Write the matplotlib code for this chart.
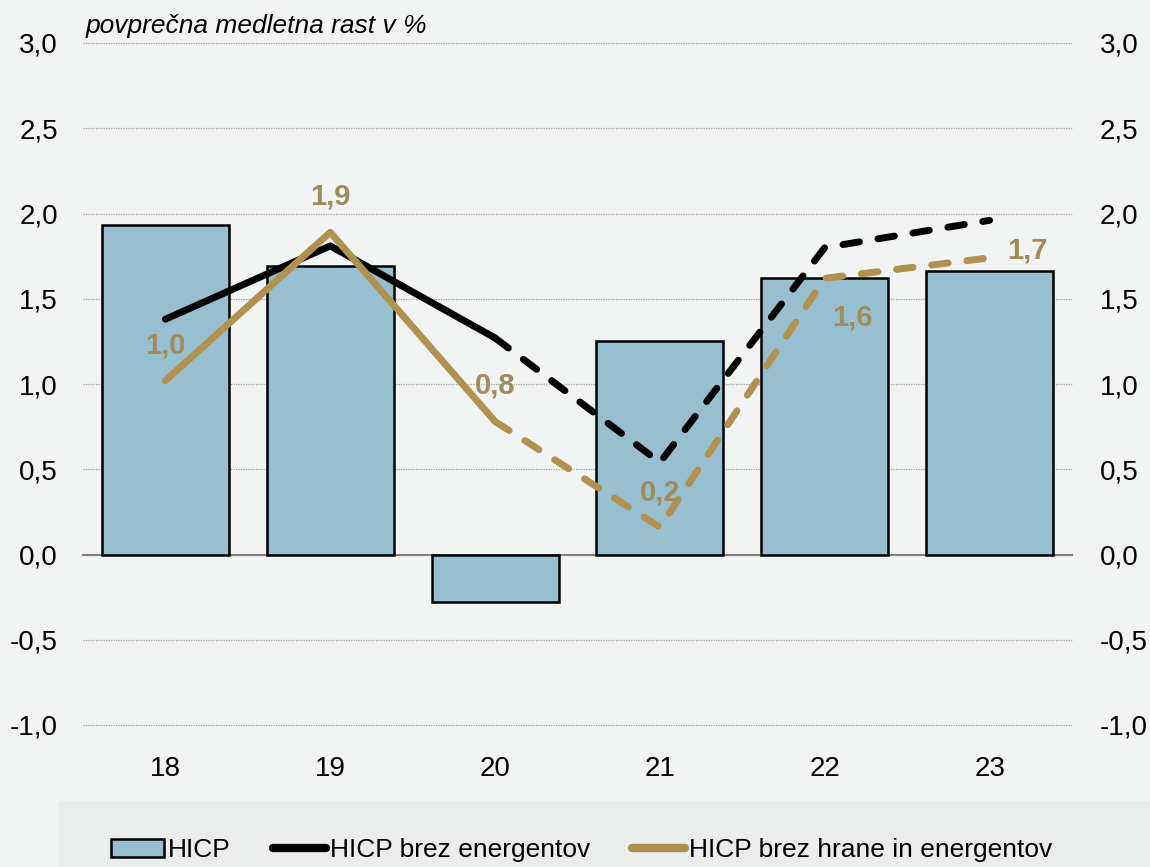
import numpy as np
import matplotlib
matplotlib.use('Agg')
import matplotlib.pyplot as plt
from matplotlib.patches import Rectangle
from matplotlib.lines import Line2D

plt.rcParams['font.family'] = ['Liberation Sans', 'DejaVu Sans']

# data
years = ['18', '19', '20', '21', '22', '23']
hicp = [1.93, 1.69, -0.28, 1.25, 1.62, 1.66]
hicp_ex_energy = [1.38, 1.81, 1.27, 0.54, 1.80, 1.96]
hicp_core = [1.02, 1.89, 0.78, 0.16, 1.62, 1.74]
core_labels = ['1,0', '1,9', '0,8', '0,2', '1,6', '1,7']
yticks = [-1.0, -0.5, 0.0, 0.5, 1.0, 1.5, 2.0, 2.5, 3.0]
n_solid = 3  # first three points are actual data, rest is projection

bar_col = '#98BFCF'
gold = '#B09150'
gold_txt = '#A08C5A'

fig = plt.figure(figsize=(11.5, 8.67), dpi=100, facecolor='#F2F4F4')
fig.patches.append(Rectangle((58 / 1150, 0), 1, 66 / 867, transform=fig.transFigure,
                             facecolor='#EBEDED', edgecolor='none', zorder=0))

ax = fig.add_axes([83 / 1150, 1 - 725 / 867, 989 / 1150, 682 / 867])
ax.set_facecolor('none')
x = np.arange(len(years))

ax.bar(x, hicp, width=0.77, color=bar_col, edgecolor='black', linewidth=1.8, zorder=2)

lw = 5
ax.plot(x[:n_solid], hicp_ex_energy[:n_solid], color='black', lw=lw,
        solid_capstyle='round', solid_joinstyle='round', zorder=3)
ax.plot(x[n_solid - 1:], hicp_ex_energy[n_solid - 1:], color='black', lw=lw,
        dashes=(2.4, 2.7), dash_capstyle='round', zorder=3)
ax.plot(x[:n_solid], hicp_core[:n_solid], color=gold, lw=lw,
        solid_capstyle='round', solid_joinstyle='round', zorder=4)
ax.plot(x[n_solid - 1:], hicp_core[n_solid - 1:], color=gold, lw=lw,
        dashes=(2.4, 2.7), dash_capstyle='round', zorder=4)

offsets = [(0, 25), (0, 26), (0, 26), (0, 25), (20, -28), (27, 5)]
for xi, v, lab, off in zip(x, hicp_core, core_labels, offsets):
    ax.annotate(lab, (xi, v), xytext=off, textcoords='offset points',
                ha='center', va='center', color=gold_txt, fontsize=21,
                fontweight='bold', zorder=5)

ax.set_xlim(-0.5, len(years) - 0.5)
ax.set_ylim(-1.0, 3.0)
ytl = [f'{t:.1f}'.replace('.', ',') for t in yticks]
ax.set_yticks(yticks)
ax.set_yticklabels(ytl)
ax.set_xticks(x)
ax.set_xticklabels(years)
ax.tick_params(axis='both', length=0, labelsize=20)
ax.tick_params(axis='y', pad=18)
ax.tick_params(axis='x', pad=22)
for s in ax.spines.values():
    s.set_visible(False)

ax2 = ax.twinx()
ax2.set_ylim(-1.0, 3.0)
ax2.set_yticks(yticks)
ax2.set_yticklabels(ytl)
ax2.tick_params(axis='y', length=0, labelsize=20, pad=20)
for s in ax2.spines.values():
    s.set_visible(False)

for t in yticks:
    if t == 0:
        ax.axhline(0, color='#808080', lw=1.5, zorder=1, clip_on=False)
    else:
        ax.axhline(t, color='#A0A0A0', lw=0.9, ls=(0, (1, 1)), zorder=1, clip_on=False)

ax.text(0.003, 1.008, 'povprečna medletna rast v %', transform=ax.transAxes,
        ha='left', va='bottom', fontsize=19, style='italic')

handles = [Rectangle((0, 0), 1, 1, facecolor=bar_col, edgecolor='black', linewidth=1.8),
           Line2D([], [], color='black', lw=6, solid_capstyle='round'),
           Line2D([], [], color=gold, lw=6, solid_capstyle='round')]
fig.legend(handles, ['HICP', 'HICP brez energentov', 'HICP brez hrane in energentov'],
           loc='center', bbox_to_anchor=(0.506, 1 - 850 / 867), ncol=3, frameon=False,
           fontsize=19, handlelength=2.0, handletextpad=0.15, columnspacing=1.6)

fig.savefig('out.png', dpi=100, facecolor=fig.get_facecolor())
